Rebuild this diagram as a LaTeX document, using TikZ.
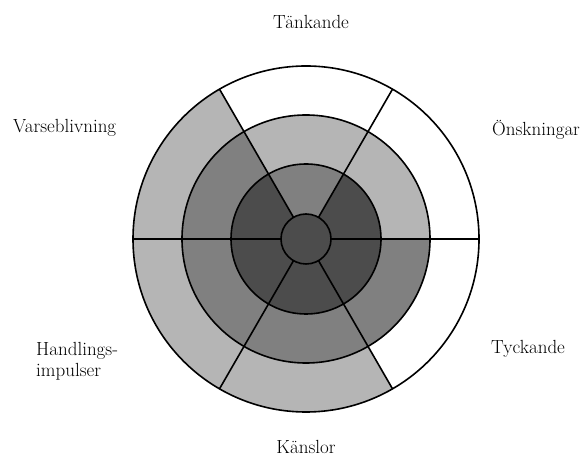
\documentclass[tikz,border=0pt]{standalone}
\definecolor{light}{gray}{0.71}
\definecolor{mid}{gray}{0.50}
\definecolor{dark}{gray}{0.30}
\tikzset{ring/.style={line width=1.6pt},
  lbl/.style={font=\fontsize{19}{21}\selectfont, inner sep=0pt, align=left}}

\begin{document}
\begin{tikzpicture}[x=1pt,y=1pt]
  \useasboundingbox (0,0) rectangle (585,462);
  \begin{scope}[shift={(306,223)}]
    %% sectors : start angle / outer / middle / inner
    \foreach \a/\o/\m/\i in {0/white/light/dark, 60/white/light/mid,
      120/light/mid/dark, 180/light/mid/dark, 240/light/mid/dark,
      300/white/mid/dark} {
      \fill[\o] (0,0) -- (\a:173) arc[start angle=\a, delta angle=60, radius=173] -- cycle;
      \fill[\m] (0,0) -- (\a:124) arc[start angle=\a, delta angle=60, radius=124] -- cycle;
      \fill[\i] (0,0) -- (\a:75) arc[start angle=\a, delta angle=60, radius=75] -- cycle;
    }
    \draw[ring] (0,0) circle[radius=173] circle[radius=124] circle[radius=75];
    \filldraw[ring, fill=dark] (0,0) circle[radius=25];
    \foreach \a in {0, 60, ..., 300} \draw[ring] (\a:25) -- (\a:173);
  \end{scope}

  \node[lbl] (tank) at (311,440) {Tänkande};
  \node[lbl, anchor=west] (varse) at (13,334) {Varseblivning};
  \node[lbl, anchor=west] (onsk) at (492,332) {Önskningar};
  \node[lbl, anchor=west] (handl) at (36,101) {Handlings-\\impulser};
  \node[lbl, anchor=west] (tyck) at (491,113) {Tyckande};
  \node[lbl] (kansl) at (306,15) {Känslor};
\end{tikzpicture}
\end{document}
